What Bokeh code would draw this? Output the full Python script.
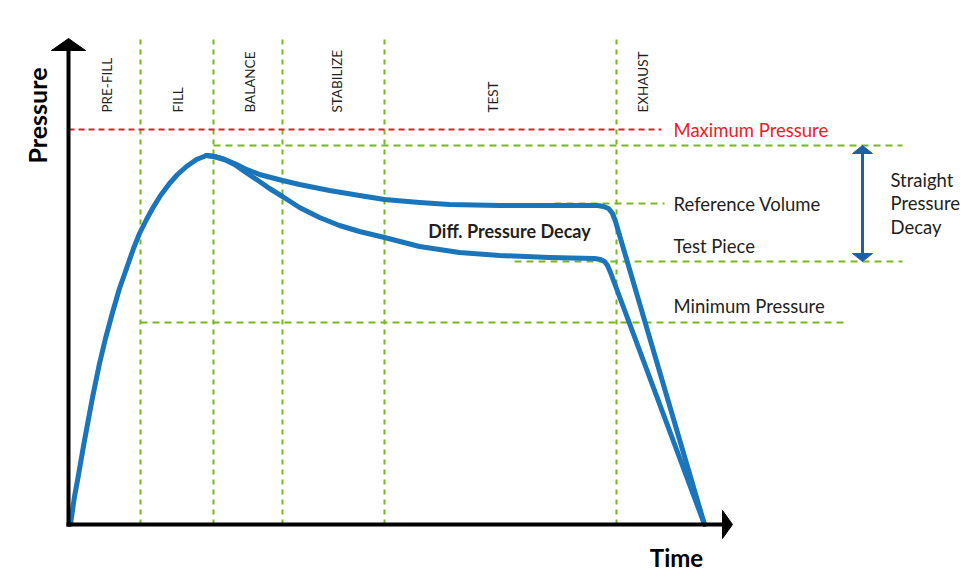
import math
from bokeh.plotting import figure
from bokeh.models import Range1d
from bokeh.core.properties import value
from bokeh.embed import file_html
from bokeh.resources import INLINE

# ---------------- data (time units, pressure units) ----------------
# common rise (fill) up to the peak
rise_t = [2, 6, 9, 16, 24, 31, 37, 44, 51, 58, 65, 71, 78, 84, 92, 101, 109, 118, 128, 138]
rise_p = [0, 28, 44, 84, 127, 161, 186, 212, 236, 256, 276, 291, 305, 316, 329, 341, 350, 358, 365, 369]

# reference volume branch
ref_t = [138, 146, 156, 166, 176, 191, 214, 231, 261, 291, 316, 351, 381, 431, 481, 529, 535, 540, 544, 547, 636]
ref_p = [369, 368, 365, 361, 356, 350, 344, 340, 334, 329, 325, 322, 320, 319, 319, 319, 318, 316, 311, 303, 0]

# test piece branch
test_t = [138, 146, 156, 166, 176, 191, 201, 214, 231, 251, 271, 291, 316, 351, 391, 431, 481, 526, 532, 536, 539, 542, 636]
test_p = [369, 368, 365, 360, 353, 343, 336, 328, 317, 307, 299, 293, 287, 278, 272, 269, 267, 266, 265, 263, 259, 252, 0]

# phases
phase_bounds = [72, 145, 214, 316, 548]
phase_names = ["PRE-FILL", "FILL", "BALANCE", "STABILIZE", "TEST", "EXHAUST"]
phase_label_t = [38, 109, 181, 268, 424, 574]

# pressure levels
max_pressure = 395
peak_level = 379
ref_level = 321
test_level = 263
min_level = 202

# axis extents
t_axis_end = 654
p_axis_end = 474
phase_top = 486

BLUE = "#1a75bb"
DARK_BLUE = "#1f5fa8"
GREEN = "#78b71e"
RED = "#ee1c24"
TXT = "#231f20"
FONT = value("Lato")

p = figure(width=967, height=571, x_range=Range1d(-68, 899), y_range=Range1d(-47, 524),
           output_backend="svg", toolbar_location=None, min_border=0,
           x_axis_location=None, y_axis_location=None, outline_line_color=None,
           background_fill_color="white", border_fill_color="white")
p.xgrid.visible = False
p.ygrid.visible = False

# vertical phase boundaries
p.segment(x0=phase_bounds, y0=[0] * len(phase_bounds), x1=phase_bounds, y1=[phase_top] * len(phase_bounds),
          line_color=GREEN, line_width=2, line_dash="5 5")

# horizontal level lines
h_x0 = [145, 486, 446, 72]
h_x1 = [834, 596, 834, 778]
h_y = [peak_level, ref_level, test_level, min_level]
p.segment(x0=h_x0, y0=h_y, x1=h_x1, y1=h_y, line_color=GREEN, line_width=2, line_dash="7 5")

# max pressure
p.segment(x0=[0], y0=[max_pressure], x1=[593], y1=[max_pressure], line_color=RED, line_width=2, line_dash="6 4")

# curves
p.line(rise_t, rise_p, line_color=BLUE, line_width=5, line_join="round", line_cap="round")
p.line(ref_t, ref_p, line_color=BLUE, line_width=5, line_join="round", line_cap="round")
p.line(test_t, test_p, line_color=BLUE, line_width=5, line_join="round", line_cap="round")

# axes with arrow heads
p.segment(x0=[0, -2], y0=[-2, 0], x1=[0, t_axis_end], y1=[p_axis_end, 0], line_color="black", line_width=4)
p.patches(xs=[[-17, 0, 17], [t_axis_end, t_axis_end + 10, t_axis_end]],
          ys=[[p_axis_end, phase_top, p_axis_end], [-14, 0, 14]],
          fill_color="black", line_color="black", line_width=1)

# straight pressure decay double arrow
arrow_t = 794
p.segment(x0=[arrow_t], y0=[test_level + 6], x1=[arrow_t], y1=[peak_level - 6], line_color=DARK_BLUE, line_width=3)
p.patches(xs=[[arrow_t - 10, arrow_t, arrow_t + 10], [arrow_t - 10, arrow_t, arrow_t + 10]],
          ys=[[peak_level - 8, peak_level, peak_level - 8], [test_level + 8, test_level, test_level + 8]],
          fill_color=DARK_BLUE, line_color=DARK_BLUE)

# phase labels
p.text(x=phase_label_t, y=[412] * len(phase_names), text=phase_names, angle=math.pi / 2,
       text_align="left", text_baseline="middle", text_font=FONT, text_font_size="13.5px", text_color=TXT)

# right-side labels
p.text(x=[605], y=[max_pressure], text=["Maximum Pressure"], text_align="left", text_baseline="middle",
       text_font=FONT, text_font_size="18.5px", text_color=RED)
p.text(x=[605, 605, 605], y=[ref_level, 279, 219], text=["Reference Volume", "Test Piece", "Minimum Pressure"],
       text_align="left", text_baseline="middle", text_font=FONT, text_font_size="18.5px", text_color=TXT)
p.text(x=[822], y=[321], text=["Straight\nPressure\nDecay"], text_align="left", text_baseline="middle",
       text_font=FONT, text_font_size="18.5px", text_color=TXT, text_line_height=1.05)
p.text(x=[441], y=[294], text=["Diff. Pressure Decay"], text_align="center", text_baseline="middle",
       text_font=FONT, text_font_size="18px", text_font_style="bold", text_color=TXT)

# axis titles
p.text(x=[608], y=[-33], text=["Time"], text_align="center", text_baseline="middle",
       text_font=FONT, text_font_size="24px", text_font_style="bold", text_color="black")
p.text(x=[-32], y=[409], text=["Pressure"], angle=math.pi / 2, text_align="center", text_baseline="middle",
       text_font=FONT, text_font_size="25px", text_font_style="bold", text_color="black")

open("out.html", "w").write(file_html(p, INLINE))
